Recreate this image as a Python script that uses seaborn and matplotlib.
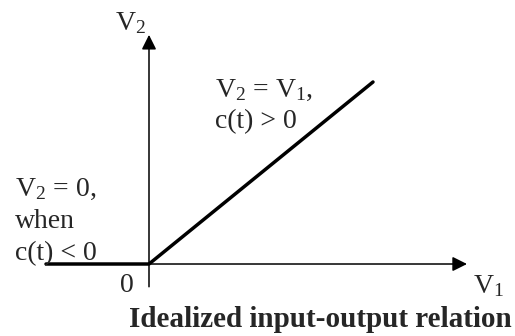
import matplotlib
matplotlib.use("Agg")
import matplotlib.pyplot as plt
import seaborn as sns

# idealized switch: V2 = V1 when c(t) > 0, else 0
v1 = [-1.03, 0.0, 2.24]
v2 = [0.0, 0.0, 2.24]

x_axis_end = 3.18
y_axis_end = 2.82
y_axis_start = -0.28

sns.set_style("white")
plt.rcParams['font.family'] = ['Liberation Serif', 'DejaVu Serif']
plt.rcParams['mathtext.fontset'] = 'custom'
plt.rcParams['mathtext.rm'] = 'Liberation Serif'
plt.rcParams['mathtext.it'] = 'Liberation Serif:italic'

fig = plt.figure(figsize=(5.15, 3.36), dpi=100)
ax = fig.add_axes([0, 0, 1, 1])

# axes with arrows
ax.annotate('', xy=(x_axis_end, 0), xytext=(0, 0),
            arrowprops=dict(arrowstyle='-|>', color='black', lw=1.1,
                            mutation_scale=22, shrinkA=0, shrinkB=0))
ax.annotate('', xy=(0, y_axis_end), xytext=(0, y_axis_start),
            arrowprops=dict(arrowstyle='-|>', color='black', lw=1.1,
                            mutation_scale=22, shrinkA=0, shrinkB=0))

sns.lineplot(x=v1, y=v2, sort=False, estimator=None, color='black',
             linewidth=2.5, ax=ax)

fs = 20
ax.text(-0.34, 2.88, r'V$_2$', fontsize=fs, va='baseline')
ax.text(3.24, -0.357, r'V$_1$', fontsize=fs, va='baseline')
ax.text(-0.22, -0.345, '0', fontsize=fs, va='baseline', ha='center')
ax.text(0.66, 2.055, r'V$_2$ = V$_1$,', fontsize=fs, va='baseline')
ax.text(0.66, 1.674, 'c(t) > 0', fontsize=fs, va='baseline')
ax.text(-1.34, 0.837, r'V$_2$ = 0,', fontsize=fs, va='baseline')
ax.text(-1.34, 0.443, 'when', fontsize=fs, va='baseline')
ax.text(-1.34, 0.049, 'c(t) < 0', fontsize=fs, va='baseline')
ax.text(1.71, -0.775, 'Idealized input-output relation', fontsize=21,
        fontweight='bold', va='baseline', ha='center')

ax.set_xlim(-1.49, 3.66)
ax.set_ylim(-0.886, 3.249)
ax.axis('off')

fig.savefig('out.png', dpi=100)
